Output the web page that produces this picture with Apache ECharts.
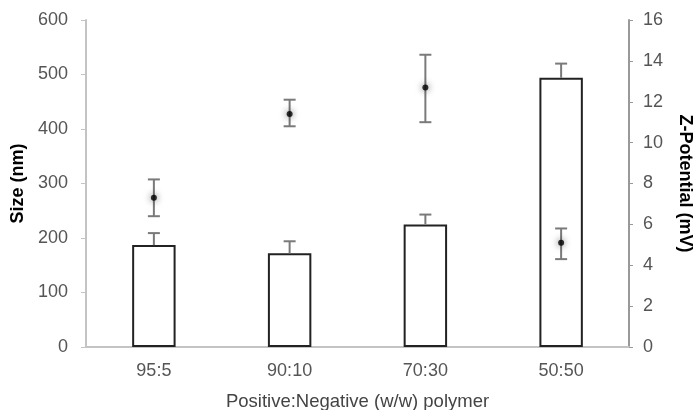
<!DOCTYPE html>
<html lang="en">
<head>
    <meta charset="utf-8">
    <title>Size and Z-Potential</title>
    <script src="https://cdn.jsdelivr.net/npm/echarts@6/dist/echarts.min.js"></script>
    <style>
        html, body { margin: 0; padding: 0; background: #fff; }
        #chart { width: 696px; height: 410px; }
    </style>
</head>
<body>
<div id="chart"></div>
<script type="text/javascript">
    // data
    var categories = ['95:5', '90:10', '70:30', '50:50'];
    var sizeValues = [187, 172, 225, 494];      // nm, bars
    var sizeErrTop = [209, 194, 243, 520];      // upper end of bar error
    var zetaValues = [7.3, 11.4, 12.7, 5.1];    // mV, points
    var zetaErrLow = [6.4, 10.8, 11.0, 4.3];
    var zetaErrHigh = [8.2, 12.1, 14.3, 5.8];
    var sizeTicks = [0, 100, 200, 300, 400, 500, 600];
    var zetaTicks = [0, 2, 4, 6, 8, 10, 12, 14, 16];

    var chart = echarts.init(document.getElementById('chart'), null, { renderer: 'canvas' });

    var textFont = 'Helvetica, Arial, "Liberation Sans", sans-serif';

    // error whiskers drawn through the axis scales
    function whisker(params, api) {
        var x = api.value(0);
        var lo = api.coord([x, api.value(1)]);
        var hi = api.coord([x, api.value(2)]);
        var half = 6;
        var style = { stroke: '#7a7a7a', lineWidth: 2 };
        var children = [
            { type: 'line', shape: { x1: hi[0], y1: hi[1], x2: lo[0], y2: lo[1] }, style: style },
            { type: 'line', shape: { x1: hi[0] - half, y1: hi[1], x2: hi[0] + half, y2: hi[1] }, style: style }
        ];
        if (api.value(3)) {
            children.push({ type: 'line', shape: { x1: lo[0] - half, y1: lo[1], x2: lo[0] + half, y2: lo[1] }, style: style });
        }
        return { type: 'group', children: children };
    }

    var sizeErr = [];
    var zetaErr = [];
    for (var i = 0; i < categories.length; i++) {
        sizeErr.push([i, sizeValues[i], sizeErrTop[i], 0]);
        zetaErr.push([i, zetaErrLow[i], zetaErrHigh[i], 1]);
    }

    var option = {
        backgroundColor: '#ffffff',
        animation: false,
        grid: { left: 86, right: 67, top: 20, bottom: 63, outerBoundsMode: 'none', containLabel: false },
        xAxis: {
            type: 'category',
            data: categories,
            name: 'Positive:Negative (w/w) polymer',
            nameLocation: 'middle',
            nameGap: 45,
            nameTextStyle: { color: '#444', fontSize: 18.5, fontFamily: textFont },
            axisLine: { lineStyle: { color: '#c4c4c4', width: 2 } },
            axisTick: { show: false },
            axisLabel: { color: '#555', fontSize: 18, fontFamily: textFont, margin: 15 }
        },
        yAxis: [
            {
                type: 'value',
                min: sizeTicks[0],
                max: sizeTicks[sizeTicks.length - 1],
                interval: 100,
                name: 'Size (nm)',
                nameLocation: 'middle',
                nameGap: 55,
                nameTextStyle: { color: '#000', fontSize: 18, fontWeight: 'bold', fontFamily: textFont },
                axisLine: { show: true, lineStyle: { color: '#c4c4c4', width: 2 } },
                axisTick: { show: true, length: 5, lineStyle: { color: '#c4c4c4' } },
                axisLabel: { color: '#555', fontSize: 18, fontFamily: textFont, margin: 18 },
                splitLine: { show: false }
            },
            {
                type: 'value',
                min: zetaTicks[0],
                max: zetaTicks[zetaTicks.length - 1],
                interval: 2,
                name: 'Z-Potential (mV)',
                nameLocation: 'middle',
                nameGap: 47,
                nameRotate: -90,
                nameTextStyle: { color: '#000', fontSize: 18, fontWeight: 'bold', fontFamily: textFont },
                axisLine: { show: true, lineStyle: { color: '#999', width: 2 } },
                axisTick: { show: true, length: 4, lineStyle: { color: '#999' } },
                axisLabel: { color: '#555', fontSize: 18, fontFamily: textFont, margin: 14 },
                splitLine: { show: false }
            }
        ],
        series: [
            {
                name: 'Size',
                type: 'bar',
                yAxisIndex: 0,
                data: sizeValues,
                barWidth: '32%',
                itemStyle: { color: '#ffffff', borderColor: '#222', borderWidth: 2 },
                z: 2
            },
            {
                name: 'Size error',
                type: 'custom',
                yAxisIndex: 0,
                renderItem: whisker,
                data: sizeErr,
                encode: { x: 0, y: [1, 2] },
                z: 3
            },
            {
                name: 'Z-Potential error',
                type: 'custom',
                yAxisIndex: 1,
                renderItem: whisker,
                data: zetaErr,
                encode: { x: 0, y: [1, 2] },
                z: 3
            },
            {
                name: 'Z-Potential',
                type: 'scatter',
                yAxisIndex: 1,
                data: zetaValues,
                symbol: 'circle',
                symbolSize: 6,
                itemStyle: { color: '#000', shadowBlur: 7, shadowColor: 'rgba(0,0,0,0.8)' },
                z: 4
            }
        ]
    };

    chart.setOption(option);
</script>
</body>
</html>
